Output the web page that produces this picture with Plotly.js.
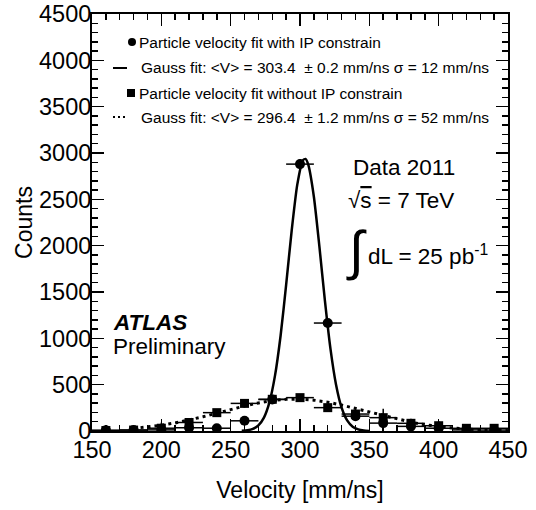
<!DOCTYPE html>
<html>
<head>
<meta charset="utf-8">
<script src="https://cdn.plot.ly/plotly-3.0.1.min.js"></script>
<style>html,body{margin:0;padding:0;background:#fff;}</style>
</head>
<body>
<div id="chart" style="width:536px;height:510px;"></div>
<script>
// Bin centres (mm/ns)
const binCenters = [160, 180, 200, 220, 240, 260, 280, 300, 320, 340, 360, 380, 400, 420, 440];
const binHalfWidth = [10, 10, 10, 10, 10, 10, 10, 10, 10, 10, 10, 10, 10, 10, 10];
// Particle velocity fit with IP constrain (circles)
const withIP = [8, 10, 12, 35, 30, 110, 340, 2880, 1165, 160, 85, 50, 30, 12, 10];
const withIPErr = [3, 3, 4, 6, 6, 11, 18, 54, 34, 13, 9, 7, 6, 4, 3];
// Particle velocity fit without IP constrain (squares)
const withoutIP = [5, 10, 30, 92, 198, 298, 342, 360, 252, 183, 144, 83, 57, 29, 29];
const withoutIPErr = [6, 8, 60, 45, 40, 40, 35, 35, 35, 40, 95, 50, 50, 20, 20];
// Gauss fit curve (with IP)
const fit1X = [258, 262, 266, 270, 274, 278, 282, 286, 290, 294, 298, 302, 304, 306, 310, 314, 318, 322, 326, 330, 334, 338, 342, 346, 350];
const fit1Y = [2, 8, 23, 61, 145, 312, 600, 1028, 1576, 2163, 2656, 2920, 2936, 2871, 2528, 1990, 1402, 884, 500, 252, 114, 46, 17, 5, 1];
// Gauss fit curve (without IP)
const fit2X = [180, 190, 200, 210, 220, 230, 240, 250, 260, 270, 280, 290, 300, 310, 320, 330, 340, 350, 360, 370, 380, 390, 400, 410, 420, 430, 440, 450];
const fit2Y = [28, 43, 62, 87, 117, 153, 192, 232, 270, 303, 328, 342, 344, 333, 311, 280, 243, 203, 163, 127, 95, 68, 47, 32, 20, 13, 8, 4];
// Tick values
const xTicks = [150, 200, 250, 300, 350, 400, 450];
const yTicks = [0, 500, 1000, 1500, 2000, 2500, 3000, 3500, 4000, 4500];

const FONT = '"Liberation Sans", Arial, Helvetica, sans-serif';

const traces = [
  {x: fit2X, y: fit2Y, mode: 'lines', line: {color: '#000', width: 3, dash: '3px,4px'}, hoverinfo: 'skip', showlegend: false},
  {x: fit1X, y: fit1Y, mode: 'lines', line: {color: '#000', width: 2.5, shape: 'spline', smoothing: 0.6}, hoverinfo: 'skip', showlegend: false},
  {x: binCenters, y: withoutIP, mode: 'markers', marker: {symbol: 'square', size: 9, color: '#000'},
   error_x: {type: 'data', array: binHalfWidth, width: 0, thickness: 1.5, color: '#000'},
   error_y: {type: 'data', array: withoutIPErr, width: 0, thickness: 1.5, color: '#000'}, showlegend: false},
  {x: binCenters, y: withIP, mode: 'markers', marker: {symbol: 'circle', size: 10, color: '#000'},
   error_x: {type: 'data', array: binHalfWidth, width: 0, thickness: 1.5, color: '#000'},
   error_y: {type: 'data', array: withIPErr, width: 0, thickness: 1.5, color: '#000'}, showlegend: false}
];

// pixel helpers for annotation placement (plot area 92..508 x, 14..431 y)
const px = v => (v - 92) / 416;
const py = v => (431 - v) / 417;

function txt(x, y, text, size, extra) {
  return Object.assign({xref: 'paper', yref: 'paper', x: px(x), y: py(y), text: text, showarrow: false,
    xanchor: 'left', yanchor: 'middle', font: {family: FONT, size: size, color: '#000'}}, extra || {});
}

const annotations = [
  txt(137, 42, 'Particle velocity fit with IP constrain', 15.5),
  txt(139, 68, 'Gauss fit: <V> = 303.4 \u00a0± 0.2 mm/ns σ = 12 mm/ns', 15.5),
  txt(137, 93, 'Particle velocity fit without IP constrain', 15.5),
  txt(139, 117, 'Gauss fit: <V> = 296.4 \u00a0± 1.2 mm/ns σ = 52 mm/ns', 15.5),
  txt(351, 167, 'Data 2011', 22.5),
  txt(346, 200, '√<span style="text-decoration:overline">s</span> = 7 TeV', 22.5),
  txt(344, 250, '∫', 54),
  txt(366, 255, 'dL = 25 pb<sup>-1</sup>', 22.5),
  txt(111, 322, '<b><i>ATLAS</i></b>', 22.5),
  txt(111, 346, 'Preliminary', 22.5)
];

const shapes = [
  // legend symbols
  {type: 'circle', xref: 'paper', yref: 'paper', xsizemode: 'pixel', ysizemode: 'pixel', xanchor: px(132), yanchor: py(42),
   x0: -4, x1: 4, y0: -4, y1: 4, fillcolor: '#000', line: {width: 0}},
  {type: 'line', xref: 'paper', yref: 'paper', x0: px(113), x1: px(127), y0: py(68), y1: py(68), line: {color: '#000', width: 2}},
  {type: 'rect', xref: 'paper', yref: 'paper', xsizemode: 'pixel', ysizemode: 'pixel', xanchor: px(131), yanchor: py(93),
   x0: -4, x1: 4, y0: -4, y1: 4, fillcolor: '#000', line: {width: 0}},
  {type: 'line', xref: 'paper', yref: 'paper', x0: px(113), x1: px(127), y0: py(117), y1: py(117), line: {color: '#000', width: 2, dash: '2px,3px'}}
];

const axisCommon = {
  showgrid: false, zeroline: false, showline: true, linecolor: '#000', linewidth: 2,
  mirror: 'allticks', ticks: 'inside', ticklen: 12, tickwidth: 1.5, tickcolor: '#000',
  tickfont: {family: FONT, size: 23.5, color: '#000'}
};

const layout = {
  width: 536, height: 510,
  margin: {l: 92, r: 28, t: 14, b: 79},
  paper_bgcolor: '#fff', plot_bgcolor: '#fff',
  showlegend: false,
  font: {family: FONT, color: '#000'},
  xaxis: Object.assign({}, axisCommon, {
    range: [150, 450], tickmode: 'array', tickvals: xTicks, ticktext: xTicks.map(String),
    minor: {dtick: 10, tick0: 150, ticks: 'inside', ticklen: 6, tickwidth: 1.5, tickcolor: '#000'},
    ticklabelstandoff: -3,
    title: {text: 'Velocity [mm/ns]', font: {family: FONT, size: 23, color: '#000'}, standoff: 20}
  }),
  yaxis: Object.assign({}, axisCommon, {
    range: [0, 4500], tickmode: 'array', tickvals: yTicks, ticktext: yTicks.map(String),
    minor: {dtick: 100, tick0: 0, ticks: 'inside', ticklen: 6, tickwidth: 1.5, tickcolor: '#000'},
    ticklabelstandoff: -6,
    title: {text: 'Counts', font: {family: FONT, size: 23, color: '#000'}, standoff: 0}
  }),
  annotations: annotations,
  shapes: shapes
};

Plotly.newPlot('chart', traces, layout, {displayModeBar: false, staticPlot: true});
</script>
</body>
</html>
